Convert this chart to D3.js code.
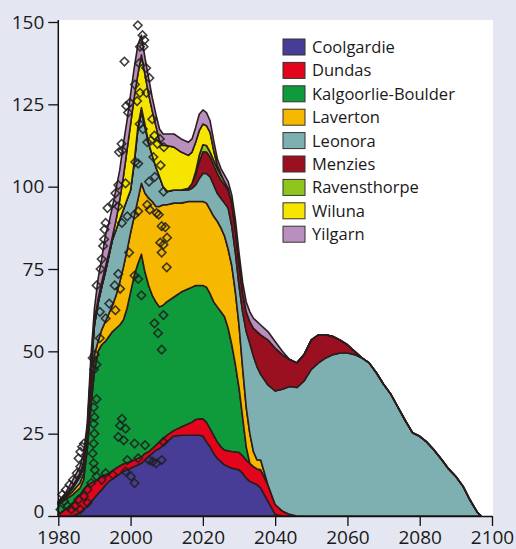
<!DOCTYPE html>
<html>
<head>
<meta charset="utf-8">
<script src="https://cdn.jsdelivr.net/npm/d3@7"></script>
<style>
  html, body { margin: 0; padding: 0; background: #e4e7f1; }
  svg { display: block; }
</style>
</head>
<body>
<div id="chart"></div>
<script>

var years = [1980,1982,1984,1986,1987,1988,1989,1990,
	1991,1992,1993,1994,1995,1996,1997,1998,1999,2000,2001,2002,2003,2004,2005,2006,2007,2008,2009,2010,
	2012,2014,2016,
	2017,2018,2019,2020,2021,2022,2023,2024,2025,2026,2027,2028,2029,2030,2031,2032,2033,2034,2035,2036,
	2038,2040,2042,2044,2046,2048,2050,2052,2054,2056,2058,2060,2062,2064,2066,2068,2070,2072,2074,2076,
	2078,2080,2082,2084,2086,2088,2090,2092,2094,2096,2097];

var coolgardie = [0,0,0,1,2,3,4.3,5.5,
	6.8,8,9.3,10.5,11.3,12,12.8,13.5,14,14.5,15,15.5,16,17,18,19,20,20.5,21.5,22.5,
	24.3,24.5,24.5,
	24.5,24.5,24.5,24.3,22.5,21,19,17.5,16.5,15.5,15,14.5,14.3,14,13,11.5,10.5,10,9.5,8.5,
	4.5,0.5,0,0,0,0,0,0,0,0,0,0,0,0,0,0,0,0,0,0,0,0,0,0,0,0,0,0,0,0,0];

var dundas = [0.5,2,4,5.5,6,6.3,5.7,5,
	4.4,4,3.2,2.5,2.5,2.5,2.4,2.3,2.2,2,2,2,2,2,1.5,1.5,1.5,2,2,2,
	1.7,2.5,3.5,
	4,4.8,5,5.2,6,5.5,5.5,5,4.5,4.5,4.8,5.1,5.2,5.3,5.3,5.5,5.5,5,4.8,5.5,
	5,3,1.5,0.5,0,0,0,0,0,0,0,0,0,0,0,0,0,0,0,0,0,0,0,0,0,0,0,0,0,0,0];

var kalgoorlie = [3,3,2.5,2,3,10.7,23,33.5,
	38.8,40,40.5,41.5,42.2,42.5,42.8,43.7,46.8,51.5,56,59,61.5,55,50.5,46.5,43.5,41,40.5,40.5,
	40.5,41,41,
	41,40.7,40.5,40.5,41,41,40.5,41,41,40.5,37.2,32.4,26.5,19.7,11.7,4,0,0,0,0,
	0,0,0,0,0,0,0,0,0,0,0,0,0,0,0,0,0,0,0,0,0,0,0,0,0,0,0,0,0,0,0];

var laverton = [0.3,0.5,1,1.5,2,3,5,5,
	3,4.5,6,7,8,10,13,16,17.5,18,18,19.5,21.5,24,26.5,28.5,29,30.5,30.5,29.5,
	28.5,27,26.5,
	26,25.5,25.5,25.5,25.5,25.5,26,26,25.5,24.5,24,24,22,19,15,12,9,4.5,2.7,3,
	0,0,0,0,0,0,0,0,0,0,0,0,0,0,0,0,0,0,0,0,0,0,0,0,0,0,0,0,0,0,0];

var leonora = [0.2,0.5,1,2,2,2,6,9,
	11.6,13,15,17.5,20,20,19,17.5,15.5,13,16,21,21.5,20,16.5,14,12,9,5.5,4,
	4,4,3.5,
	4,5,7,8.5,9,10,9.5,8.5,9,10,12.5,12,12,12,17,23,27.4,29,28.3,26,
	30.3,34.5,37,38.8,39,41,44.5,46.5,48,49,49.5,49.5,49,48,46.5,43.5,40,37,33,29,
	25.3,24.2,22.4,20,17.2,14.3,12,9,4.7,1,0];

var menzies = [0,0,0,0,0,0,0,0,
	0,0,0,0,0,0,0,0,0,0,0.5,1,1.5,0.8,0.3,0,0,0,0,0,
	0,0,0.5,
	1.5,3,5,6.6,6.5,6,6,6,5.5,5.5,5.5,7,7,7,6,6,6.6,8.5,10.7,12,
	13.7,13,10.5,8.2,7.5,8,9,8.5,7,5.5,3.9,2.5,1,0,0,0,0,0,0,0,0,0,0,0,0,0,0,0,0,0,0];

var ravensthorpe = [0,0,0,0,0,0,0,0,
	0,0,0,0,0,0,0,0,0,0,0,0,0,0,0,0,0,0,0,0,
	0,0,0,
	0,1,2,2.1,2,1.5,1.5,1.5,1.5,1,0.5,0,0,0,0,0,0,0,0,0,
	0,0,0,0,0,0,0,0,0,0,0,0,0,0,0,0,0,0,0,0,0,0,0,0,0,0,0,0,0,0,0];

var wiluna = [0.2,0.3,0.5,1,1.5,1,1,1,
	1.4,1.5,1.5,1,1,3,6,10,15,20,19.5,16,16,15.2,14.7,13.5,12.5,11,12.5,14,
	13,11.5,10,
	9.5,9,7.5,6.3,6,6,3,1,0.3,0,0,0,0,0,0,0,0,0,0,0,
	0,0,0,0,0,0,0,0,0,0,0,0,0,0,0,0,0,0,0,0,0,0,0,0,0,0,0,0,0,0,0];

var yilgarn = [0.3,0.7,2,2,2.5,2,3,4,
	6,7,9.5,9,9,9.5,9,10,9,9,9,9,6,5,5,4,3.5,3.5,3.5,3.5,
	4,4,4,
	4,4.5,5,4.3,4,3.5,3,2,1.7,2,2,2.5,3,3,3,3,3,3,3,3,
	2.5,2,1,0,0,0,0,0,0,0,0,0,0,0,0,0,0,0,0,0,0,0,0,0,0,0,0,0,0,0,0];

var regions = ["Coolgardie","Dundas","Kalgoorlie-Boulder","Laverton","Leonora",
	"Menzies","Ravensthorpe","Wiluna","Yilgarn"];
var seriesValues = [coolgardie, dundas, kalgoorlie, laverton, leonora,
	menzies, ravensthorpe, wiluna, yilgarn];
var regionColors = ["#483d96","#e3051b","#0f9a3c","#f6b800","#7eb0b1",
	"#9a1020","#8ec61d","#f5e500","#b98fbe"];

// historical production points (diamonds)
var obsYears = [2002,2003.3,2003.8,2002.6,2003.6,1998.3,2002.4,2004.3,2005.2,2001.2,2002.6,2004.4,1999.8,1998.8,
	1999.3,2001.8,2006,2002.5,2003.4,2006.6,2007.4,2008.1,1997.5,2004.6,2005.6,1996.8,1997.7,2006.3,2009.2,
	2001.3,2002.1,2008.3,2006.7,1998.6,2005.1,1996.6,1995.8,2009.1,
	1995.1,1993.6,1996.6,2004.6,2005.3,2007.2,2007.8,1999.1,2001.1,2002.1,1993.1,1992.8,1997.6,2008.6,2009.6,
	1992.7,2009.1,2008.2,2010.1,1992.4,1999.6,2008.6,1992,2010,1991.7,1996.6,2001.1,2002.1,1990.6,1995.6,
	1997.1,1994.1,2003,1991.5,1995.8,2009.1,1993.1,2006.6,2007.6,1991.5,2008.6,1990.1,1989.5,1990.6,1989.9,
	1990.6,1989.8,1990,1989.8,1990,1989.8,1989.5,1989.8,1990.1,1997.6,1997.1,1998.6,1996.6,1998.1,2001.1,
	2004,2009.1,1999.1,2002.1,2005.1,2006.1,2007.1,2008.6,2000.1,2001.1,1998.6,1993.1,1992,1995.1,1987.1,
	1986.6,1986.1,1985.6,1986.1,1985.1,1984.1,1983.1,1982.1,1981.1,1981.6,1982.6,1983.6,1984.6,1985.6,
	1987.1,1988.1,1989.1,1990.6,1988.1,1986.1,1980.6];
var obsValues = [149,146,144.5,142.5,142.5,138,137.5,136,133,131,128.5,128.5,125.5,124.5,
	122.5,126,120.5,119,117.5,115.5,113,114.5,113,113.5,114,110.5,111,109,112,
	107.5,107,106.5,103,101,101.5,100.5,98,98.5,
	95,93.5,94,94.5,93,92,91.5,91,91.5,92.5,89,87,89,88,87.7,
	84,82.4,83,84.5,82,80,80,78,75.5,75,73.5,73,72,70,70,
	69,64.5,67,62,62.5,61,60,58.5,55.5,54,50.5,49,48,46,44.5,
	35.5,33,30,28,25,22,19,16,14,29.5,27.5,26.5,24,23,22,
	21.5,22.5,17,17.5,17,16.5,16,17,12,10,13.5,13,11,12.5,22,
	21,19.5,17.5,15,13,11,9.5,8,6.5,4.5,3,2,3,5,
	6,8,10,12,4,2,2];

var xTicks = [1980,2000,2020,2040,2060,2080,2100];
var yTicks = [0,25,50,75,100,125,150];

var width = 516,
	height = 549;

var x = d3.scaleLinear().domain([1980, 2100]).range([58.3, 492]);
var y = d3.scaleLinear().domain([0, 150]).range([516, 22]);

var svg = d3.select("#chart")
	.append("svg")
	.attr("width", width)
	.attr("height", height)
	.style("font-family", "'Open Sans', sans-serif");

// white plotting panel
svg.append("rect")
	.attr("x", 58)
	.attr("y", 20)
	.attr("width", 435)
	.attr("height", 496)
	.attr("fill", "#ffffff");

var rows = years.map(function(yr, i) {
	var row = { year: yr };
	regions.forEach(function(name, k) {
		row[name] = seriesValues[k][i];
	});
	return row;
});

var stacked = d3.stack().keys(regions)(rows);

var area = d3.area()
	.x(function(d) { return x(d.data.year); })
	.y0(function(d) { return y(d[0]); })
	.y1(function(d) { return y(d[1]); })
	.curve(d3.curveLinear);

svg.append("g")
	.selectAll("path")
	.data(stacked)
	.enter()
	.append("path")
	.attr("d", area)
	.attr("fill", function(d, i) { return regionColors[i]; })
	.attr("stroke", "#2b1d1d")
	.attr("stroke-width", 1.6)
	.attr("stroke-linejoin", "round");

// diamonds
var diamond = d3.symbol().type(d3.symbolSquare).size(36);

svg.append("g")
	.selectAll("path")
	.data(obsYears)
	.enter()
	.append("path")
	.attr("d", diamond)
	.attr("transform", function(d, i) {
		return "translate(" + x(d) + "," + y(obsValues[i]) + ") rotate(45)";
	})
	.attr("fill", "none")
	.attr("stroke", "#1e1e1e")
	.attr("stroke-opacity", 0.85)
	.attr("stroke-width", 1.6);

// axes
var yAxis = svg.append("g")
	.attr("transform", "translate(58.3,0)")
	.call(d3.axisLeft(y).tickValues(yTicks).tickSize(10).tickSizeOuter(0).tickPadding(4));

var xAxis = svg.append("g")
	.attr("transform", "translate(0,516)")
	.call(d3.axisBottom(x).tickValues(xTicks).tickFormat(d3.format("d")).tickSize(10).tickSizeOuter(0).tickPadding(5));

// y axis runs up to the top of the white panel
yAxis.select(".domain").attr("d", "M0,516V20");

[yAxis, xAxis].forEach(function(g) {
	g.select(".domain").attr("stroke", "#111").attr("stroke-width", 1.5);
	g.selectAll(".tick line").attr("stroke", "#111").attr("stroke-width", 1.3);
	g.selectAll(".tick text")
		.attr("fill", "#1a1a1a")
		.style("font-size", "19px")
		.style("font-family", "'Open Sans', sans-serif");
});

// keep the "0" label clear of the "1980" label below it
yAxis.selectAll(".tick text")
	.filter(function(d) { return d === 0; })
	.attr("dy", "0.1em");

// legend
var legend = svg.append("g")
	.selectAll("g")
	.data(regions)
	.enter()
	.append("g")
	.attr("transform", function(d, i) {
		return "translate(283," + (39 + i * 23.4) + ")";
	});

legend.append("rect")
	.attr("width", 22)
	.attr("height", 16)
	.attr("fill", function(d, i) { return regionColors[i]; })
	.attr("stroke", "#333")
	.attr("stroke-width", 1);

legend.append("text")
	.text(function(d) { return d; })
	.attr("x", 29)
	.attr("y", 14)
	.attr("font-size", "16.5px")
	.attr("fill", "#1a1a1a");

</script>
</body>
</html>
